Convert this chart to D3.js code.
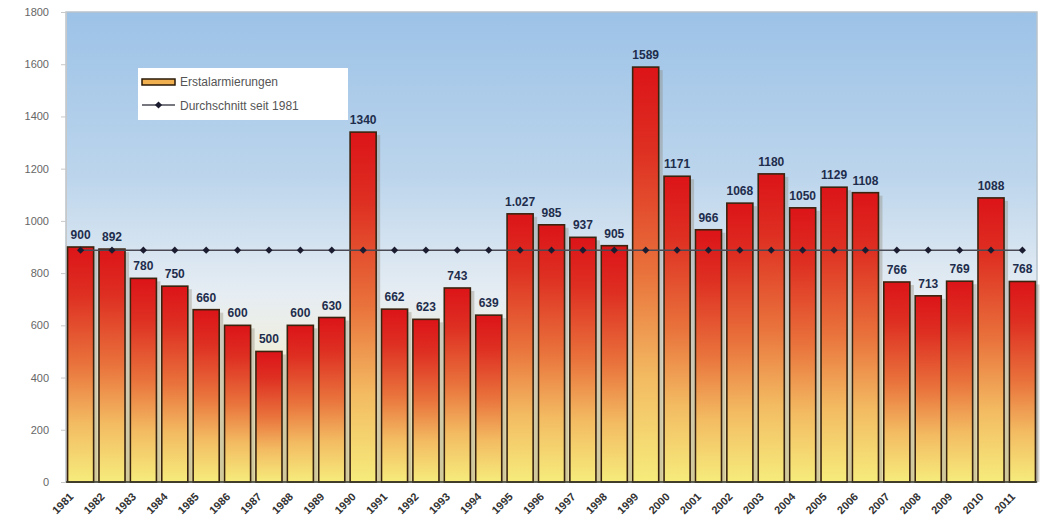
<!DOCTYPE html>
<html>
<head>
<meta charset="utf-8">
<script src="https://cdn.jsdelivr.net/npm/d3@7"></script>
<style>
  body { margin: 0; background: #fff; }
  svg { display: block; font-family: "Liberation Sans", Arial, sans-serif; }
</style>
</head>
<body>
<div id="chart"></div>
<script>
// Data
var years = ["1981", "1982", "1983", "1984", "1985", "1986", "1987", "1988", "1989", "1990",
  "1991", "1992", "1993", "1994", "1995", "1996", "1997", "1998", "1999", "2000",
  "2001", "2002", "2003", "2004", "2005", "2006", "2007", "2008", "2009", "2010", "2011"];
var alarms = [900, 892, 780, 750, 660, 600, 500, 600, 630, 1340,
  662, 623, 743, 639, 1027, 985, 937, 905, 1589, 1171,
  966, 1068, 1180, 1050, 1129, 1108, 766, 713, 769, 1088, 768];
var barLabels = ["900", "892", "780", "750", "660", "600", "500", "600", "630", "1340",
  "662", "623", "743", "639", "1.027", "985", "937", "905", "1589", "1171",
  "966", "1068", "1180", "1050", "1129", "1108", "766", "713", "769", "1088", "768"];
var average = 888;
var yTicks = [0, 200, 400, 600, 800, 1000, 1200, 1400, 1600, 1800];
var legendNames = ["Erstalarmierungen", "Durchschnitt seit 1981"];

var svgWidth = 1042;
var svgHeight = 529;

var margin = { top: 12, right: 5, bottom: 47, left: 66 };
var chartWidth = svgWidth - margin.left - margin.right;
var chartHeight = svgHeight - margin.top - margin.bottom;

var svg = d3.select("#chart")
  .append("svg")
  .attr("width", svgWidth)
  .attr("height", svgHeight);

var defs = svg.append("defs");

// plot background: blue sky fading to pale yellow
var bg = defs.append("linearGradient")
  .attr("id", "bgGrad")
  .attr("x1", 0).attr("y1", 0).attr("x2", 0).attr("y2", 1);
bg.append("stop").attr("offset", "0%").attr("stop-color", "#9cc2e7");
bg.append("stop").attr("offset", "35%").attr("stop-color", "#bcd5ec");
bg.append("stop").attr("offset", "60%").attr("stop-color", "#e6edf3");
bg.append("stop").attr("offset", "80%").attr("stop-color", "#f6f0d0");
bg.append("stop").attr("offset", "100%").attr("stop-color", "#f8f0b0");

// bar fill: red top -> orange -> yellow bottom
var bar = defs.append("linearGradient")
  .attr("id", "barGrad")
  .attr("x1", 0).attr("y1", 0).attr("x2", 0).attr("y2", 1);
bar.append("stop").attr("offset", "0%").attr("stop-color", "#dc1418");
bar.append("stop").attr("offset", "20%").attr("stop-color", "#de2f22");
bar.append("stop").attr("offset", "50%").attr("stop-color", "#e9733c");
bar.append("stop").attr("offset", "75%").attr("stop-color", "#f3bb62");
bar.append("stop").attr("offset", "100%").attr("stop-color", "#f6ec7c");

var chartGroup = svg.append("g")
  .attr("transform", `translate(${margin.left}, ${margin.top})`);

var xScale = d3.scaleBand()
  .domain(years)
  .range([0, chartWidth])
  .paddingInner(0.17)
  .paddingOuter(0.05);

var yScale = d3.scaleLinear()
  .domain([0, 1800])
  .range([chartHeight, 0]);

// plot area
chartGroup.append("rect")
  .attr("width", chartWidth)
  .attr("height", chartHeight)
  .attr("fill", "url(#bgGrad)")
  .attr("stroke", "#b8c4cc")
  .attr("stroke-width", 1.5);

// y axis
var leftAxis = d3.axisLeft(yScale)
  .tickValues(yTicks)
  .tickFormat(d3.format("d"))
  .tickSize(5)
  .tickPadding(12);

var yAxis = chartGroup.append("g").call(leftAxis);
yAxis.select(".domain").attr("stroke", "#c8c8c8");
yAxis.selectAll(".tick line").attr("stroke", "#c8c8c8");
yAxis.selectAll("text")
  .attr("fill", "#666")
  .style("font-size", "11px");

// shadows behind bars
chartGroup.selectAll(".shadow")
  .data(alarms)
  .enter()
  .append("rect")
  .attr("class", "shadow")
  .attr("x", (d, i) => xScale(years[i]) + 4)
  .attr("y", d => yScale(d) + 3)
  .attr("width", xScale.bandwidth())
  .attr("height", d => chartHeight - yScale(d) - 3)
  .attr("fill", "#8a8070")
  .attr("opacity", 0.35);

// bars
chartGroup.selectAll(".bar")
  .data(alarms)
  .enter()
  .append("rect")
  .attr("class", "bar")
  .attr("x", (d, i) => xScale(years[i]))
  .attr("y", d => yScale(d))
  .attr("width", xScale.bandwidth())
  .attr("height", d => chartHeight - yScale(d))
  .attr("fill", "url(#barGrad)")
  .attr("stroke", "#3a2410")
  .attr("stroke-width", 1.6);

// bottom axis line
chartGroup.append("line")
  .attr("x1", 0).attr("x2", chartWidth)
  .attr("y1", chartHeight).attr("y2", chartHeight)
  .attr("stroke", "#3a3a2a")
  .attr("stroke-width", 1.5);

// average line with diamonds
var avgLine = d3.line()
  .x(d => xScale(d) + xScale.bandwidth() / 2)
  .y(() => yScale(average));

chartGroup.append("path")
  .datum(years)
  .attr("d", avgLine)
  .attr("fill", "none")
  .attr("stroke", "#4a4a55")
  .attr("stroke-width", 1.5);

chartGroup.selectAll(".diamond")
  .data(years)
  .enter()
  .append("path")
  .attr("class", "diamond")
  .attr("d", d3.symbol().type(d3.symbolSquare).size(26))
  .attr("transform", d => `translate(${xScale(d) + xScale.bandwidth() / 2}, ${yScale(average)}) rotate(45)`)
  .attr("fill", "#1c1c30");

// value labels
chartGroup.selectAll(".value")
  .data(alarms)
  .enter()
  .append("text")
  .attr("class", "value")
  .attr("x", (d, i) => xScale(years[i]) + xScale.bandwidth() / 2)
  .attr("y", d => yScale(d) - 8)
  .attr("text-anchor", "middle")
  .attr("fill", "#1e2d4c")
  .style("font-size", "12px")
  .style("font-weight", "bold")
  .text((d, i) => barLabels[i]);

// x tick labels, rotated, sitting left of their bar like the original
chartGroup.selectAll(".year")
  .data(years)
  .enter()
  .append("text")
  .attr("class", "year")
  .attr("transform", d => `translate(${xScale(d) + xScale.bandwidth() / 2 - 12}, ${chartHeight + 10}) rotate(-45)`)
  .attr("text-anchor", "end")
  .attr("dy", "0.7em")
  .attr("fill", "#333")
  .style("font-size", "11px")
  .style("font-weight", "bold")
  .text(d => d);

// legend
var legend = svg.append("g")
  .attr("transform", "translate(138, 68)");

legend.append("rect")
  .attr("width", 210)
  .attr("height", 52)
  .attr("fill", "#fff");

legend.append("rect")
  .attr("x", 4).attr("y", 11)
  .attr("width", 33).attr("height", 6)
  .attr("fill", "#f0b050")
  .attr("stroke", "#2a1a08")
  .attr("stroke-width", 1.5);

legend.append("line")
  .attr("x1", 4).attr("x2", 37)
  .attr("y1", 37).attr("y2", 37)
  .attr("stroke", "#4a4a55")
  .attr("stroke-width", 1.5);

legend.append("path")
  .attr("d", d3.symbol().type(d3.symbolSquare).size(26))
  .attr("transform", "translate(20.5, 37) rotate(45)")
  .attr("fill", "#1c1c30");

legend.selectAll(".legText")
  .data(legendNames)
  .enter()
  .append("text")
  .attr("class", "legText")
  .attr("x", 42)
  .attr("y", (d, i) => 14 + i * 24)
  .attr("dy", "0.35em")
  .attr("fill", "#555")
  .style("font-size", "12px")
  .text(d => d);
</script>
</body>
</html>
